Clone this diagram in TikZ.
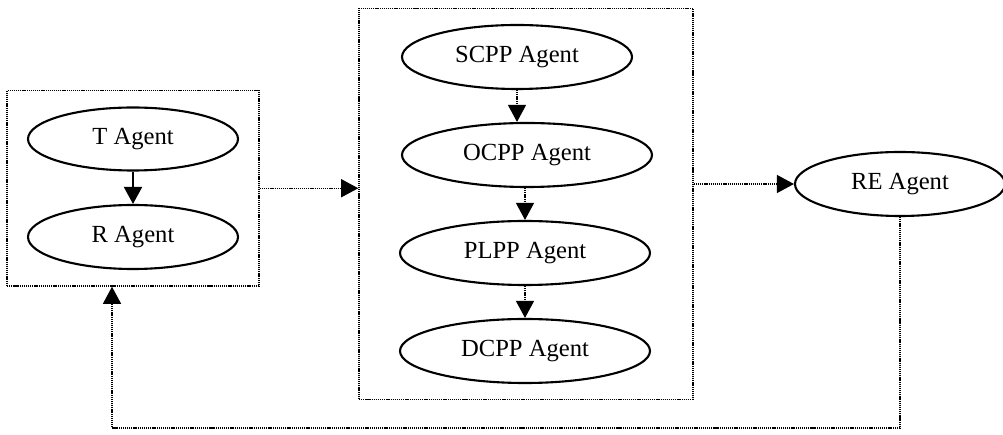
\documentclass[tikz,border=0pt]{standalone}
\usepackage{fontspec}
\setmainfont{Liberation Serif}
\usetikzlibrary{shapes.geometric, arrows.meta, fit, positioning}
\tikzstyle{agent} = [ellipse, draw=black, line width=1.2pt, inner sep=0pt, minimum width=5.0cm, minimum height=1.28cm, text centered, font=\fontsize{14}{16}\selectfont]
\tikzstyle{group} = [rectangle, draw=black, line width=0.8pt, dash pattern=on 0.7pt off 0.5pt]
\tikzstyle{arrow} = [line width=1.2pt, -{Triangle[length=0.34cm, width=0.36cm]}]
\tikzstyle{darrow} = [line width=0.7pt, dash pattern=on 0.7pt off 0.5pt, -{Triangle[length=0.34cm, width=0.36cm]}]

\begin{document}
\begin{tikzpicture}[node distance=1.96 cm]
\useasboundingbox (0,0) rectangle (20.06,-8.7);

%% agents
\node (tag)   [agent, minimum width=4.2cm, minimum height=1.26cm] at (2.66,-2.78) {T Agent};
\node (rag)   [agent, minimum width=4.2cm, below of=tag] {R Agent};
\node (scpp)  [agent, minimum width=4.6cm] at (10.34,-1.14) {SCPP Agent};
\node (ocpp)  [agent, below of=scpp, xshift=0.2cm] {OCPP Agent};
\node (plpp)  [agent, below of=ocpp, xshift=-0.04cm] {PLPP Agent};
\node (dcpp)  [agent, below of=plpp] {DCPP Agent};
\node (reag)  [agent, minimum width=4.2cm] at (18.0,-3.68) {RE Agent};

%% dotted groups
\node (grpA) [group, fit=(tag)(rag), inner xsep=0.4cm, inner ysep=0.32cm] {};
\node (grpB) [group, fit=(scpp)(ocpp)(plpp)(dcpp), inner xsep=0.8cm, inner ysep=0.31cm] {};
\coordinate (fbk) at (2.24,-8.56);

%% Draw the connectivity.
\draw [arrow]  (tag)--(rag);
\draw [darrow] (scpp.south)--(scpp.south |- ocpp.north);
\draw [darrow] (plpp.north |- ocpp.south)--(plpp.north);
\draw [darrow] (plpp)--(dcpp);
\draw [darrow] (grpA.east)--(grpA.east -| grpB.west);
\draw [darrow] (reag.west -| grpB.east)--(reag);
\draw [darrow] (reag.south) |- (fbk) -- (fbk |- grpA.south);
\end{tikzpicture}
\end{document}
